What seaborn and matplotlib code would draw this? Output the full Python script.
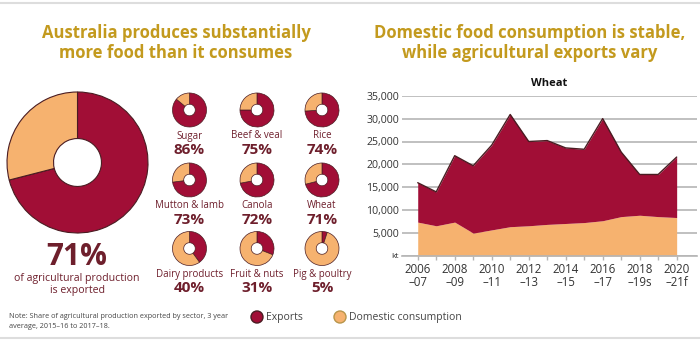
import matplotlib
matplotlib.use("Agg")
import matplotlib.pyplot as plt
import seaborn as sns
import pandas as pd

# ---------------- data ----------------
sectors = ["Sugar", "Beef & veal", "Rice", "Mutton & lamb", "Canola", "Wheat",
           "Dairy products", "Fruit & nuts", "Pig & poultry"]
export_share = [86, 75, 74, 73, 72, 71, 40, 31, 5]
overall_share = 71

years = [2006, 2007, 2008, 2009, 2010, 2011, 2012, 2013, 2014, 2015, 2016, 2017, 2018, 2019, 2020]
domestic = [7400, 6600, 7400, 5000, 5700, 6400, 6600, 6900, 7100, 7300, 7700, 8600, 8900, 8600, 8400]
total = [16000, 14000, 21900, 19700, 24200, 30900, 25000, 25200, 23600, 23300, 30000, 22700, 17800, 17800, 21600]
exports = [t - d for t, d in zip(total, domestic)]
tick_years = [2006, 2008, 2010, 2012, 2014, 2016, 2018, 2020]
tick_labels = ["2006\n\u201307", "2008\n\u201309", "2010\n\u201311", "2012\n\u201313",
               "2014\n\u201315", "2016\n\u201317", "2018\n\u201319s", "2020\n\u201321f"]
y_ticks = [0, 5000, 10000, 15000, 20000, 25000, 30000, 35000]
y_labels = ["kt", "5,000", "10,000", "15,000", "20,000", "25,000", "30,000", "35,000"]

# ---------------- style ----------------
sns.set_theme(style="white")
plt.rcParams["font.family"] = ["Open Sans", "DejaVu Sans"]

EXP = "#A10E36"
DOM = "#F6B26F"
EDGE = "#4A1C22"
GOLD = "#C39A1E"
MAROON = "#6E1F2C"
TXT = "#444444"

W, H = 700, 342
fig = plt.figure(figsize=(W / 100, H / 100), dpi=100)

# overlay axes in pixel coordinates for text and rules
ov = fig.add_axes([0, 0, 1, 1], zorder=0)
ov.set_xlim(0, W)
ov.set_ylim(H, 0)
ov.axis("off")

ov.plot([0, W], [3, 3], color="#DDDDDD", lw=1.5)
ov.plot([0, W], [338, 338], color="#DDDDDD", lw=1.5)

TFS = 12.0
ov.text(176, 33, "Australia produces substantially", ha="center", va="center",
        fontsize=TFS, fontweight="bold", color=GOLD)
ov.text(176, 53, "more food than it consumes", ha="center", va="center",
        fontsize=TFS, fontweight="bold", color=GOLD)
ov.text(530, 33, "Domestic food consumption is stable,", ha="center", va="center",
        fontsize=TFS, fontweight="bold", color=GOLD)
ov.text(530, 53, "while agricultural exports vary", ha="center", va="center",
        fontsize=TFS, fontweight="bold", color=GOLD)


def donut(cx, cy, r, pct, lw):
    ax = fig.add_axes([(cx - r * 1.04) / W, 1 - (cy + r * 1.04) / H,
                       2 * r * 1.04 / W, 2 * r * 1.04 / H], zorder=2)
    ax.pie([pct, 100 - pct], colors=[EXP, DOM], startangle=90, counterclock=False,
           radius=1, wedgeprops=dict(width=0.66, edgecolor=EDGE, linewidth=lw))
    ax.set_xlim(-1.04, 1.04)
    ax.set_ylim(-1.04, 1.04)
    ax.axis("off")


# big donut
donut(77.5, 162.5, 70.5, overall_share, 0.8)
ov.text(77, 257, f"{overall_share}%", ha="center", va="center", fontsize=21.5,
        fontweight="bold", color=MAROON)
ov.text(77, 279, "of agricultural production", ha="center", va="center",
        fontsize=7.6, color=MAROON)
ov.text(77, 291, "is exported", ha="center", va="center", fontsize=7.6, color=MAROON)

# small donuts
xs = [189.5, 257, 322]
ys = [110, 180, 248.5]
for i, (name, pct) in enumerate(zip(sectors, export_share)):
    cx = xs[i % 3]
    cy = ys[i // 3]
    donut(cx, cy, 17, pct, 0.5)
    ov.text(cx, cy + 26, name, ha="center", va="center", fontsize=7, color=MAROON)
    ov.text(cx, cy + 39.5, f"{pct}%", ha="center", va="center", fontsize=11,
            fontweight="bold", color=MAROON)

# note
ov.text(9, 316.5, "Note: Share of agricultural production exported by sector, 3 year",
        ha="left", va="center", fontsize=5.2, color=TXT)
ov.text(9, 326.5, "average, 2015\u201316 to 2017\u201318.", ha="left", va="center",
        fontsize=5.2, color=TXT)

# legend
ov.scatter([257, 340], [317, 317], s=75, c=[EXP, DOM], edgecolors=[EDGE, "#B8954A"],
           linewidths=1.0, zorder=3)
ov.text(266, 317.5, "Exports", ha="left", va="center", fontsize=7.5, color=TXT)
ov.text(349, 317.5, "Domestic consumption", ha="left", va="center", fontsize=7.5, color=TXT)

# ---------------- area chart ----------------
ax = fig.add_axes([402 / W, 1 - 256 / H, (697 - 402) / W, (256 - 95.7) / H], zorder=1)
ax.stackplot(years, domestic, exports, colors=[DOM, EXP], linewidth=0)
df = pd.DataFrame({"year": years, "total": total})
sns.lineplot(data=df, x="year", y="total", ax=ax, color=EDGE, lw=1.0)
ax.set_xlim(2005.15, 2021.1)
ax.set_ylim(0, 35000)
ax.set_yticks(y_ticks)
ax.set_yticklabels(y_labels)
ax.set_xticks(years, minor=True)
ax.set_xticks(tick_years)
ax.set_xticklabels(tick_labels, linespacing=1.0)
ax.set_xlabel("")
ax.set_ylabel("")
ax.grid(axis="y", color="#B5B5B5", lw=1.2, zorder=0)
ax.set_axisbelow(True)
for s in ["top", "right", "left"]:
    ax.spines[s].set_visible(False)
ax.spines["bottom"].set_color("#B5B5B5")
ax.spines["bottom"].set_linewidth(1.2)
ax.tick_params(axis="y", length=0, pad=2, labelsize=7.6, labelcolor="#333333")
ax.tick_params(axis="x", which="both", length=3, width=1, color="#B5B5B5",
               direction="out", pad=2, labelsize=8.3, labelcolor="#333333", bottom=True)
for lbl in ax.get_yticklabels():
    if lbl.get_text() == "kt":
        lbl.set_fontsize(6)
ax.set_title("Wheat", fontsize=8, fontweight="bold", color="#111111", pad=7)

fig.savefig("out.png", dpi=100)
